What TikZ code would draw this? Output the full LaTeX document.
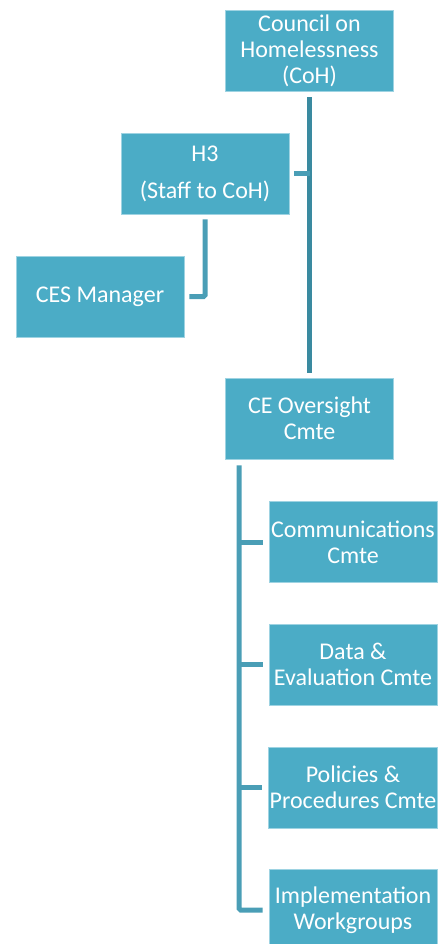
\documentclass[tikz,border=0pt]{standalone}
\usepackage{fontspec}
\setmainfont{Carlito}
\definecolor{boxfill}{HTML}{4BACC6}
\definecolor{boxedge}{HTML}{9ED3E2}
\definecolor{trunkline}{HTML}{3A8AA0}
\definecolor{linkline}{HTML}{4A9EB6}
\tikzset{
  orgbox/.style={rectangle, fill=boxfill, draw=boxedge, line width=0.6pt,
    minimum width=168pt, minimum height=81pt, inner sep=1pt,
    text=white, align=center,
    font=\fontsize{24pt}{26pt}\selectfont},
  link/.style={draw=linkline, line width=5pt, rounded corners=1.5pt},
  trunk/.style={draw=trunkline, line width=5pt}
}
\begin{document}
\begin{tikzpicture}[x=1pt, y=-1pt]
  \useasboundingbox (0,0) rectangle (438,944);
  \clip (0,0) rectangle (438,944);

  % boxes
  \node[orgbox] (coh)  at (309.5, 50.5) {Council on\\Homelessness\\(CoH)};
  \node[orgbox] (h3)   at (205, 173.5) {H3\\[11pt](Staff to CoH)};
  \node[orgbox] (ces)  at (100, 296.5) {CES Manager};
  \node[orgbox] (ceo)  at (309.5, 418.5) {CE Oversight\\Cmte};
  \node[orgbox] (comm) at (353, 542) {Communications\\Cmte};
  \node[orgbox] (data) at (353, 664.5) {Data \&\\Evaluation Cmte};
  \node[orgbox] (pol)  at (353, 787.5) {Policies \&\\Procedures Cmte};
  \node[orgbox] (impl) at (353, 910) {Implementation\\Workgroups};

  % council to oversight committee, with the staff branch
  \draw[trunk] ([yshift=-6pt]coh.south) -- ([yshift=5pt]ceo.north);
  \draw[link] ([xshift=5pt]h3.east) -- (h3.east -| coh.south);
  \draw[link] ([yshift=-5pt]h3.south) |- ([xshift=5pt]ces.east);

  % oversight committee to its subcommittees
  \coordinate (t0) at ([xshift=14pt,yshift=-6pt]ceo.south west);
  \draw[link] (t0) |- ([xshift=-6pt]impl.west);
  \draw[link] (t0 |- comm.west) -- ([xshift=-6pt]comm.west);
  \draw[link] (t0 |- data.west) -- ([xshift=-6pt]data.west);
  \draw[link] (t0 |- pol.west) -- ([xshift=-6pt]pol.west);
\end{tikzpicture}
\end{document}
